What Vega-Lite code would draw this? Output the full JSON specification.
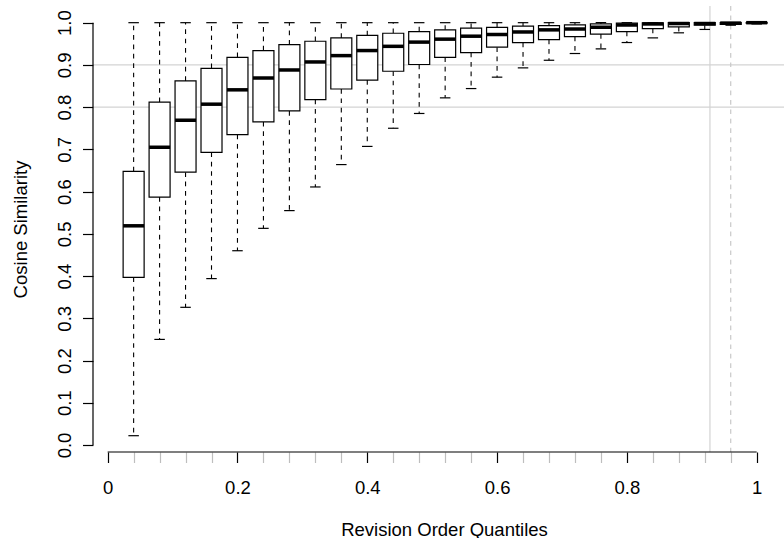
{
  "$schema": "https://vega.github.io/schema/vega-lite/v6.json",
  "autosize": "none",
  "width": 691,
  "height": 446,
  "padding": {"left": 93, "top": 6, "right": 0, "bottom": 86},
  "background": "white",
  "config": {
    "view": {"stroke": null},
    "font": "Liberation Sans",
    "axis": {"grid": false, "domain": false, "labelFont": "Liberation Sans", "titleFont": "Liberation Sans", "labelColor": "black", "titleColor": "black", "titleFontWeight": "normal", "labelOverlap": false, "labelFlush": false, "labelBound": false},
    "tick": {"opacity": 1},
    "bar": {"opacity": 1}
  },
  "resolve": {"axis": {"x": "independent"}},
  "datasets": {
    "boxes": [
      {"q": 0.04, "lo": 0.022, "q1": 0.397, "med": 0.519, "q3": 0.648, "hi": 1.0},
      {"q": 0.08, "lo": 0.250, "q1": 0.587, "med": 0.705, "q3": 0.812, "hi": 1.0},
      {"q": 0.12, "lo": 0.326, "q1": 0.646, "med": 0.769, "q3": 0.862, "hi": 1.0},
      {"q": 0.16, "lo": 0.394, "q1": 0.693, "med": 0.807, "q3": 0.892, "hi": 1.0},
      {"q": 0.20, "lo": 0.460, "q1": 0.735, "med": 0.841, "q3": 0.918, "hi": 1.0},
      {"q": 0.24, "lo": 0.513, "q1": 0.765, "med": 0.869, "q3": 0.934, "hi": 1.0},
      {"q": 0.28, "lo": 0.555, "q1": 0.791, "med": 0.888, "q3": 0.948, "hi": 1.0},
      {"q": 0.32, "lo": 0.611, "q1": 0.818, "med": 0.907, "q3": 0.956, "hi": 1.0},
      {"q": 0.36, "lo": 0.664, "q1": 0.843, "med": 0.922, "q3": 0.964, "hi": 1.0},
      {"q": 0.40, "lo": 0.707, "q1": 0.864, "med": 0.934, "q3": 0.970, "hi": 1.0},
      {"q": 0.44, "lo": 0.750, "q1": 0.885, "med": 0.944, "q3": 0.975, "hi": 1.0},
      {"q": 0.48, "lo": 0.785, "q1": 0.901, "med": 0.954, "q3": 0.979, "hi": 1.0},
      {"q": 0.52, "lo": 0.822, "q1": 0.918, "med": 0.961, "q3": 0.983, "hi": 1.0},
      {"q": 0.56, "lo": 0.844, "q1": 0.929, "med": 0.968, "q3": 0.987, "hi": 1.0},
      {"q": 0.60, "lo": 0.871, "q1": 0.942, "med": 0.972, "q3": 0.989, "hi": 1.0},
      {"q": 0.64, "lo": 0.893, "q1": 0.953, "med": 0.978, "q3": 0.992, "hi": 1.0},
      {"q": 0.68, "lo": 0.911, "q1": 0.960, "med": 0.983, "q3": 0.993, "hi": 1.0},
      {"q": 0.72, "lo": 0.927, "q1": 0.967, "med": 0.985, "q3": 0.995, "hi": 1.0},
      {"q": 0.76, "lo": 0.938, "q1": 0.973, "med": 0.989, "q3": 0.997, "hi": 1.0},
      {"q": 0.80, "lo": 0.953, "q1": 0.979, "med": 0.9945, "q3": 0.999, "hi": 1.0},
      {"q": 0.84, "lo": 0.964, "q1": 0.986, "med": 0.997, "q3": 0.9995, "hi": 1.0},
      {"q": 0.88, "lo": 0.976, "q1": 0.990, "med": 0.998, "q3": 1.0, "hi": 1.0},
      {"q": 0.92, "lo": 0.984, "q1": 0.994, "med": 0.998, "q3": 1.0, "hi": 1.0},
      {"q": 0.96, "lo": 0.994, "q1": 0.996, "med": 0.999, "q3": 1.0, "hi": 1.0},
      {"q": 1.00, "lo": 0.997, "q1": 0.999, "med": 1.0, "q3": 1.0, "hi": 1.0}
    ]
  },
  "data": {"name": "boxes"},
  "layer": [
    {
      "description": "horizontal reference lines at 0.8 and 0.9",
      "data": {"values": [{"y": 0.8}, {"y": 0.9}]},
      "mark": {"type": "rule", "color": "#d3d3d3", "strokeWidth": 1.2},
      "encoding": {
        "y": {"field": "y", "type": "quantitative", "scale": {"domain": [-0.0166, 1.0395], "nice": false, "zero": false, "padding": 0}}
      }
    },
    {
      "description": "solid vertical reference line",
      "data": {"values": [{"x": 0.928}]},
      "mark": {"type": "rule", "color": "#d3d3d3", "strokeWidth": 1.2},
      "encoding": {
        "x": {"field": "x", "type": "quantitative", "axis": null, "scale": {"domain": [-0.0226, 1.0421], "nice": false, "zero": false, "padding": 0}}
      }
    },
    {
      "description": "dashed vertical reference line",
      "data": {"values": [{"x": 0.96}]},
      "mark": {"type": "rule", "color": "#c8c8c8", "strokeWidth": 1.2, "strokeDash": [4.7, 4.7]},
      "encoding": {
        "x": {"field": "x", "type": "quantitative", "axis": null}
      }
    },
    {
      "description": "lower whiskers; this layer also carries the grey minor ticks of the x axis",
      "mark": {"type": "rule", "color": "black", "strokeWidth": 1.1, "strokeDash": [4.7, 4.7]},
      "encoding": {
        "x": {
          "field": "q", "type": "quantitative",
          "axis": {
            "orient": "bottom",
            "title": null,
            "labels": false,
            "domain": false,
            "values": [0.04, 0.08, 0.12, 0.16, 0.24, 0.28, 0.32, 0.36, 0.44, 0.48, 0.52, 0.56, 0.64, 0.68, 0.72, 0.76, 0.84, 0.88, 0.92, 0.96],
            "tickSize": 10.5,
            "tickWidth": 1.2,
            "tickColor": "#bebebe"
          }
        },
        "y": {"field": "q1", "type": "quantitative"},
        "y2": {"field": "lo"}
      }
    },
    {
      "description": "upper whiskers",
      "mark": {"type": "rule", "color": "black", "strokeWidth": 1.1, "strokeDash": [4.7, 4.7]},
      "encoding": {
        "x": {"field": "q", "type": "quantitative", "axis": null},
        "y": {"field": "q3", "type": "quantitative"},
        "y2": {"field": "hi"}
      }
    },
    {
      "description": "whisker caps",
      "mark": {"type": "tick", "orient": "horizontal", "color": "black", "opacity": 1, "size": 10.5, "thickness": 1.2},
      "encoding": {
        "x": {"field": "q", "type": "quantitative", "axis": null},
        "y": {"field": "lo", "type": "quantitative"}
      }
    },
    {
      "mark": {"type": "tick", "orient": "horizontal", "color": "black", "opacity": 1, "size": 10.5, "thickness": 1.2},
      "encoding": {
        "x": {"field": "q", "type": "quantitative", "axis": null},
        "y": {"field": "hi", "type": "quantitative"}
      }
    },
    {
      "description": "boxes from first to third quartile, carrying the labelled axes",
      "mark": {"type": "bar", "width": 21, "fill": "white", "stroke": "black", "strokeWidth": 1.2, "opacity": 1},
      "encoding": {
        "x": {
          "field": "q", "type": "quantitative",
          "axis": {
            "orient": "bottom",
            "title": "Revision Order Quantiles",
            "titleFontSize": 18.5,
            "titleBaseline": "alphabetic",
            "titleX": 351,
            "titleY": 83,
            "values": [0, 0.2, 0.4, 0.6, 0.8, 1],
            "tickSize": 10.5,
            "tickWidth": 1.2,
            "tickColor": "black",
            "labelExpr": "toString(datum.value)",
            "labelFontSize": 18.5,
            "labelBaseline": "alphabetic",
            "labelPadding": 31,
            "labelOverlap": false,
            "labelFlush": false
          }
        },
        "y": {
          "field": "q1", "type": "quantitative",
          "axis": {
            "title": "Cosine Similarity",
            "titleFontSize": 18.5,
            "titleAngle": 270,
            "titleBaseline": "alphabetic",
            "titleX": -67,
            "values": [0, 0.1, 0.2, 0.3, 0.4, 0.5, 0.6, 0.7, 0.8, 0.9, 1],
            "format": ".1f",
            "tickSize": 10.5,
            "tickWidth": 1.2,
            "tickColor": "black",
            "labelAngle": 270,
            "labelAlign": "center",
            "labelBaseline": "alphabetic",
            "labelFontSize": 18.5,
            "labelPadding": 12,
            "labelOverlap": false
          }
        },
        "y2": {"field": "q3"}
      }
    },
    {
      "description": "medians",
      "mark": {"type": "tick", "orient": "horizontal", "color": "black", "opacity": 1, "size": 21, "thickness": 3.5},
      "encoding": {
        "x": {"field": "q", "type": "quantitative", "axis": null},
        "y": {"field": "med", "type": "quantitative"}
      }
    },
    {
      "description": "axis lines spanning only the labelled range",
      "data": {"values": [{"x": -0.0226, "y": 0, "y2": 1}]},
      "mark": {"type": "rule", "color": "black", "strokeWidth": 1.2},
      "encoding": {
        "x": {"field": "x", "type": "quantitative", "axis": null},
        "y": {"field": "y", "type": "quantitative"},
        "y2": {"field": "y2"}
      }
    },
    {
      "data": {"values": [{"x": 0, "x2": 1, "y": -0.0166}]},
      "mark": {"type": "rule", "color": "black", "strokeWidth": 1.2},
      "encoding": {
        "x": {"field": "x", "type": "quantitative", "axis": null},
        "x2": {"field": "x2"},
        "y": {"field": "y", "type": "quantitative"}
      }
    }
  ]
}
